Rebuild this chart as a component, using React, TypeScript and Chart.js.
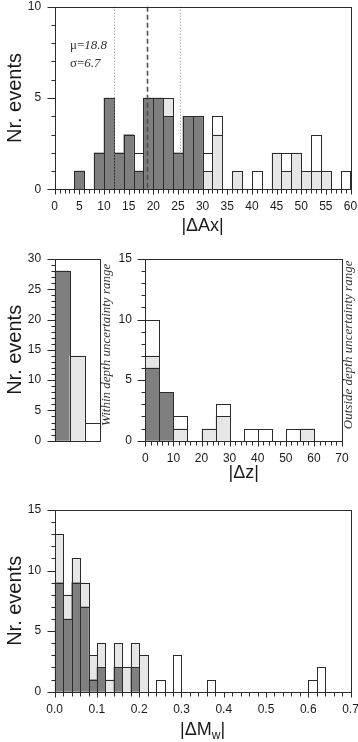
import React, { useEffect, useRef } from 'react';
import { Chart, registerables } from 'chart.js';

Chart.register(...registerables);

const SANS = '"Liberation Sans", Arial, Helvetica, sans-serif';
const SERIF = '"Liberation Serif", "Times New Roman", serif';
const INK = '#1a1a1a';
const EDGE = '#2b2b2b';
const DARK = '#7f7f7f';
const LIGHT = '#e6e6e6';
const WHITE = '#ffffff';

// ---------- Panel 1: |ΔAx| (bins of 2) ----------
const AX_CENTERS = [1, 3, 5, 7, 9, 11, 13, 15, 17, 19, 21, 23, 25, 27, 29, 31, 33, 35, 37, 39, 41, 43, 45, 47, 49, 51, 53, 55, 57, 59];
const AX_DARK = [0, 0, 1, 0, 2, 5, 2, 3, 1, 5, 5, 4, 2, 4, 4, 0, 0, 0, 0, 0, 0, 0, 0, 0, 0, 0, 0, 0, 0, 0];
const AX_LIGHT = [0, 0, 0, 0, 0, 0, 0, 0, 0, 0, 0, 1, 0, 0, 0, 1, 3, 0, 1, 0, 0, 0, 2, 1, 2, 1, 1, 1, 0, 0];
const AX_WHITE = [0, 0, 0, 0, 0, 0, 0, 0, 1, 0, 0, 0, 0, 0, 0, 1, 1, 0, 0, 0, 1, 0, 0, 1, 0, 0, 2, 0, 0, 1];
const AX_MU = 18.8;
const AX_SIGMA = 6.7;

// ---------- Panel 2a: within depth uncertainty ----------
const WITHIN_CATS = ['dark', 'light', 'white'];
const WITHIN_COUNTS = [28, 14, 3];

// ---------- Panel 2b: |Δz| (bins of 5) ----------
const DZ_CENTERS = [2.5, 7.5, 12.5, 17.5, 22.5, 27.5, 32.5, 37.5, 42.5, 47.5, 52.5, 57.5, 62.5, 67.5];
const DZ_DARK = [6, 4, 0, 0, 0, 0, 0, 0, 0, 0, 0, 0, 0, 0];
const DZ_LIGHT = [1, 0, 1, 0, 1, 2, 0, 0, 0, 0, 0, 1, 0, 0];
const DZ_WHITE = [3, 0, 1, 0, 0, 1, 0, 1, 1, 0, 1, 0, 0, 0];

// ---------- Panel 3: |ΔMw| (bins of 0.02) ----------
const MW_CENTERS = [0.01, 0.03, 0.05, 0.07, 0.09, 0.11, 0.13, 0.15, 0.17, 0.19, 0.21, 0.23, 0.25, 0.27, 0.29, 0.31, 0.33, 0.35, 0.37, 0.39, 0.41, 0.43, 0.45, 0.47, 0.49, 0.51, 0.53, 0.55, 0.57, 0.59, 0.61, 0.63, 0.65, 0.67, 0.69];
const MW_DARK = [9, 6, 9, 7, 1, 2, 0, 2, 0, 2, 0, 0, 0, 0, 0, 0, 0, 0, 0, 0, 0, 0, 0, 0, 0, 0, 0, 0, 0, 0, 0, 0, 0, 0, 0];
const MW_LIGHT = [4, 2, 2, 2, 2, 2, 1, 2, 2, 2, 3, 0, 0, 0, 0, 0, 0, 0, 0, 0, 0, 0, 0, 0, 0, 0, 0, 0, 0, 0, 0, 0, 0, 0, 0];
const MW_WHITE = [0, 0, 0, 0, 0, 0, 0, 0, 0, 0, 0, 0, 1, 0, 3, 0, 0, 0, 1, 0, 0, 0, 0, 0, 0, 0, 0, 0, 0, 0, 1, 2, 0, 0, 0];

// ---------- Texts ----------
const Y_TITLE = 'Nr. events';
const AX_TITLE = '|ΔAx|';
const DZ_TITLE = '|Δz|';
const MW_TITLE = ['|ΔM', 'w', '|'];
const WITHIN_TEXT = 'Within depth uncertainty range';
const OUTSIDE_TEXT = 'Outside depth uncertainty range';
const MU_TEXT = ['μ=', String(AX_MU)];
const SIGMA_TEXT = ['σ=', String(AX_SIGMA)];

// ---------- Plugins ----------
const frameTicks = {
  id: 'frameTicks',
  afterDraw(chart: any, _a: any, opts: any) {
    const { ctx, chartArea: a } = chart;
    ctx.save();
    ctx.strokeStyle = EDGE;
    ctx.lineWidth = 1;
    const L = Math.round(a.left) + 0.5;
    const R = Math.round(a.right) + 0.5;
    const T = Math.round(a.top) + 0.5;
    const B = Math.round(a.bottom) + 0.5;
    ctx.strokeRect(L, T, R - L, B - T);
    const specs = opts.specs || [];
    for (let k = 0; k < specs.length; k++) {
      const spec = specs[k];
      const scale = chart.scales[spec.axis];
      const n = Math.round((scale.max - scale.min) / spec.minor);
      for (let i = 0; i <= n; i++) {
        const v = scale.min + i * spec.minor;
        const r = v / spec.major;
        const isMajor = Math.abs(r - Math.round(r)) < 1e-6;
        const len = isMajor ? spec.majorLen : spec.minorLen;
        const p = Math.round(scale.getPixelForValue(v)) + 0.5;
        ctx.beginPath();
        if (scale.isHorizontal()) {
          ctx.moveTo(p, B);
          ctx.lineTo(p, B + len);
        } else {
          ctx.moveTo(L, p);
          ctx.lineTo(L - len, p);
        }
        ctx.stroke();
      }
    }
    ctx.restore();
  },
};

const barOutline = {
  id: 'barOutline',
  afterDatasetsDraw(chart: any) {
    const ctx = chart.ctx;
    ctx.save();
    ctx.strokeStyle = EDGE;
    ctx.lineWidth = 1;
    chart.data.datasets.forEach((ds: any, di: number) => {
      const meta = chart.getDatasetMeta(di);
      meta.data.forEach((el: any, i: number) => {
        const raw = ds.data[i];
        const v = raw !== null && typeof raw === 'object' ? raw.y : raw;
        if (v === null || v === undefined || v === 0) return;
        const { x, y, base, width } = el.getProps(['x', 'y', 'base', 'width'], true);
        const l = Math.round(x - width / 2) + 0.5;
        const r = Math.round(x + width / 2) + 0.5;
        const t = Math.round(y) + 0.5;
        const b = Math.round(base) + 0.5;
        ctx.strokeRect(l, t, r - l, b - t);
      });
    });
    ctx.restore();
  },
};

const refLines = {
  id: 'refLines',
  afterDatasetsDraw(chart: any, _a: any, opts: any) {
    const { ctx, chartArea: a } = chart;
    const lines = opts.lines || [];
    const xs = chart.scales.x;
    ctx.save();
    for (let k = 0; k < lines.length; k++) {
      const ln = lines[k];
      const p = Math.round(xs.getPixelForValue(ln.value)) + 0.5;
      ctx.strokeStyle = ln.color;
      ctx.lineWidth = ln.width;
      ctx.setLineDash(ln.dash);
      ctx.beginPath();
      ctx.moveTo(p, a.top);
      ctx.lineTo(p, a.bottom);
      ctx.stroke();
    }
    ctx.restore();
  },
};

const statsText = {
  id: 'statsText',
  afterDraw(chart: any, _a: any, opts: any) {
    if (!opts.rows) return;
    const { ctx, chartArea: a } = chart;
    ctx.save();
    ctx.fillStyle = '#333';
    ctx.textBaseline = 'middle';
    ctx.textAlign = 'left';
    const rows = opts.rows;
    for (let k = 0; k < rows.length; k++) {
      const row = rows[k];
      let x = a.left + opts.dx;
      const y = a.top + row.dy;
      ctx.font = `13px ${SERIF}`;
      ctx.fillText(row.label, x, y);
      x += ctx.measureText(row.label).width;
      ctx.font = `italic 13px ${SERIF}`;
      ctx.fillText(row.value, x, y);
    }
    ctx.restore();
  },
};

const sideText = {
  id: 'sideText',
  afterDraw(chart: any, _a: any, opts: any) {
    if (!opts.text) return;
    const { ctx, chartArea: a } = chart;
    ctx.save();
    ctx.fillStyle = '#333';
    ctx.font = `italic 13px ${SERIF}`;
    ctx.textAlign = 'center';
    ctx.textBaseline = 'middle';
    ctx.translate(a.right + opts.dx, (a.top + a.bottom) / 2 + opts.dy);
    ctx.rotate(-Math.PI / 2);
    ctx.fillText(opts.text, 0, 0);
    ctx.restore();
  },
};

const subTitle = {
  id: 'subTitle',
  afterDraw(chart: any, _a: any, opts: any) {
    if (!opts.parts) return;
    const { ctx, chartArea: a } = chart;
    const parts = opts.parts;
    ctx.save();
    ctx.fillStyle = INK;
    ctx.textBaseline = 'alphabetic';
    ctx.textAlign = 'left';
    const big = `18px ${SANS}`;
    const small = `12px ${SANS}`;
    ctx.font = big;
    const w0 = ctx.measureText(parts[0]).width;
    const w2 = ctx.measureText(parts[2]).width;
    ctx.font = small;
    const w1 = ctx.measureText(parts[1]).width;
    const total = w0 + w1 + w2;
    let x = (a.left + a.right) / 2 - total / 2;
    const y = a.bottom + opts.dy;
    ctx.font = big;
    ctx.fillText(parts[0], x, y);
    x += w0;
    ctx.font = small;
    ctx.fillText(parts[1], x, y + 4);
    x += w1;
    ctx.font = big;
    ctx.fillText(parts[2], x, y);
    ctx.restore();
  },
};

// ---------- helpers ----------
function histDatasets(centers: number[], series: { data: number[]; color: string }[]) {
  return series.map((s) => ({
    data: centers.map((c, i) => ({ x: c, y: s.data[i] === 0 ? null : s.data[i] })),
    backgroundColor: s.color,
    borderColor: EDGE,
    borderWidth: 0,
    barPercentage: 1,
    categoryPercentage: 1,
  }));
}

function fixWidth(w: number) {
  return (s: any) => {
    s.width = w;
    s.paddingTop = 0;
    s.paddingBottom = 0;
    s.paddingLeft = 0;
    s.paddingRight = 0;
  };
}
function fixHeight(h: number) {
  return (s: any) => {
    s.height = h;
    s.paddingTop = 0;
    s.paddingBottom = 0;
    s.paddingLeft = 0;
    s.paddingRight = 0;
  };
}

const tickFont = { family: SANS, size: 12 };
const titleFont = { family: SANS, size: 20 };
const xTitleFont = { family: SANS, size: 18 };

function yAxis(max: number, width: number, showTitle: boolean) {
  return {
    type: 'linear',
    min: 0,
    max,
    stacked: true,
    grid: { display: false, drawTicks: false },
    border: { display: false },
    ticks: { stepSize: 5, padding: 13.5, font: tickFont, color: INK },
    title: {
      display: showTitle,
      text: Y_TITLE,
      font: titleFont,
      color: INK,
      padding: { top: 3.5, bottom: 0 },
    },
    afterFit: fixWidth(width),
  };
}

function xLinear(max: number, step: number, height: number, title: string | null, titlePad: number, fmt: boolean) {
  const ticks: any = { stepSize: step, padding: 10.5, font: tickFont, color: INK, maxRotation: 0, autoSkip: false };
  if (fmt) ticks.callback = (v: any) => Number(v).toFixed(1);
  return {
    type: 'linear',
    min: 0,
    max,
    offset: false,
    stacked: true,
    grid: { display: false, drawTicks: false, offset: false },
    border: { display: false },
    ticks,
    title: {
      display: !!title,
      text: title || '',
      font: xTitleFont,
      color: INK,
      padding: { top: 0, bottom: titlePad },
    },
    afterFit: fixHeight(height),
  };
}

const baseOpts = {
  responsive: false,
  maintainAspectRatio: false,
  animation: false,
  events: [],
};

function buildTop() {
  return {
    type: 'bar',
    data: {
      datasets: histDatasets(AX_CENTERS, [
        { data: AX_DARK, color: DARK },
        { data: AX_LIGHT, color: LIGHT },
        { data: AX_WHITE, color: WHITE },
      ]),
    },
    options: {
      ...baseOpts,
      layout: { padding: { left: 0, top: 6.7, right: 7.5, bottom: 0 } },
      scales: {
        x: xLinear(60, 5, 50.7, AX_TITLE, 3.2, false),
        y: yAxis(10, 54.7, true),
      },
      plugins: {
        legend: { display: false },
        tooltip: { enabled: false },
        frameTicks: {
          specs: [
            { axis: 'x', minor: 1, major: 5, minorLen: 4, majorLen: 5 },
            { axis: 'y', minor: 1, major: 5, minorLen: 4, majorLen: 8 },
          ],
        },
        refLines: {
          lines: [
            { value: AX_MU - AX_SIGMA, color: '#8a8a8a', width: 1, dash: [1, 2] },
            { value: AX_MU + AX_SIGMA, color: '#8a8a8a', width: 1, dash: [1, 2] },
            { value: AX_MU, color: '#4a4a4a', width: 1.5, dash: [5, 3] },
          ],
        },
        statsText: {
          dx: 15.3,
          rows: [
            { label: MU_TEXT[0], value: MU_TEXT[1], dy: 38.8 },
            { label: SIGMA_TEXT[0], value: SIGMA_TEXT[1], dy: 56.5 },
          ],
        },
      },
    },
    plugins: [barOutline, refLines, frameTicks, statsText],
  };
}

function buildWithin() {
  return {
    type: 'bar',
    data: {
      labels: WITHIN_CATS,
      datasets: [
        {
          data: WITHIN_COUNTS,
          backgroundColor: [DARK, LIGHT, WHITE],
          borderColor: EDGE,
          borderWidth: 0,
          barPercentage: 1,
          categoryPercentage: 1,
        },
      ],
    },
    options: {
      ...baseOpts,
      layout: { padding: { left: 0, top: 19, right: 25, bottom: 0 } },
      scales: {
        x: {
          type: 'category',
          offset: true,
          grid: { display: false, drawTicks: false },
          border: { display: false },
          ticks: { display: false },
          afterFit: fixHeight(29.3),
        },
        y: { ...yAxis(30, 54.7, true), stacked: false },
      },
      plugins: {
        legend: { display: false },
        tooltip: { enabled: false },
        frameTicks: {
          specs: [{ axis: 'y', minor: 1, major: 5, minorLen: 4, majorLen: 8 }],
        },
        sideText: { text: WITHIN_TEXT, dx: 7, dy: -5 },
      },
    },
    plugins: [barOutline, frameTicks, sideText],
  };
}

function buildDz() {
  return {
    type: 'bar',
    data: {
      datasets: histDatasets(DZ_CENTERS, [
        { data: DZ_DARK, color: DARK },
        { data: DZ_LIGHT, color: LIGHT },
        { data: DZ_WHITE, color: WHITE },
      ]),
    },
    options: {
      ...baseOpts,
      layout: { padding: { left: 0, top: 19, right: 16, bottom: 0 } },
      scales: {
        x: xLinear(70, 10, 49.3, DZ_TITLE, 6.2, false),
        y: yAxis(15, 45.3, false),
      },
      plugins: {
        legend: { display: false },
        tooltip: { enabled: false },
        frameTicks: {
          specs: [
            { axis: 'x', minor: 2, major: 10, minorLen: 4, majorLen: 5 },
            { axis: 'y', minor: 1, major: 5, minorLen: 4, majorLen: 8 },
          ],
        },
        sideText: { text: OUTSIDE_TEXT, dx: 7, dy: -5 },
      },
    },
    plugins: [barOutline, frameTicks, sideText],
  };
}

function buildMw() {
  return {
    type: 'bar',
    data: {
      datasets: histDatasets(MW_CENTERS, [
        { data: MW_DARK, color: DARK },
        { data: MW_LIGHT, color: LIGHT },
        { data: MW_WHITE, color: WHITE },
      ]),
    },
    options: {
      ...baseOpts,
      layout: { padding: { left: 0, top: 20, right: 7.5, bottom: 0 } },
      scales: {
        x: xLinear(0.7, 0.1, 50.3, null, 0, true),
        y: yAxis(15, 54.7, true),
      },
      plugins: {
        legend: { display: false },
        tooltip: { enabled: false },
        frameTicks: {
          specs: [
            { axis: 'x', minor: 0.02, major: 0.1, minorLen: 4, majorLen: 5 },
            { axis: 'y', minor: 1, major: 5, minorLen: 4, majorLen: 8 },
          ],
        },
        subTitle: { parts: MW_TITLE, dy: 43.5 },
      },
    },
    plugins: [barOutline, frameTicks, subTitle],
  };
}

function ChartBox(props: { left: number; top: number; width: number; height: number; build: () => any }) {
  const ref = useRef<HTMLCanvasElement | null>(null);
  useEffect(() => {
    if (!ref.current) return;
    const chart = new Chart(ref.current, props.build());
    return () => chart.destroy();
  }, []);
  return (
    <canvas
      ref={ref}
      width={props.width}
      height={props.height}
      style={{ position: 'absolute', left: props.left, top: props.top, width: props.width, height: props.height, display: 'block' }}
    />
  );
}

export default function App() {
  return (
    <div style={{ position: 'absolute', left: 0, top: 0, width: 358, height: 742, background: '#fff', overflow: 'hidden' }}>
      <ChartBox left={0} top={0} width={358} height={240} build={buildTop} />
      <ChartBox left={0} top={240} width={125} height={230} build={buildWithin} />
      <ChartBox left={100} top={240} width={258} height={250} build={buildDz} />
      <ChartBox left={0} top={490} width={358} height={252} build={buildMw} />
    </div>
  );
}
